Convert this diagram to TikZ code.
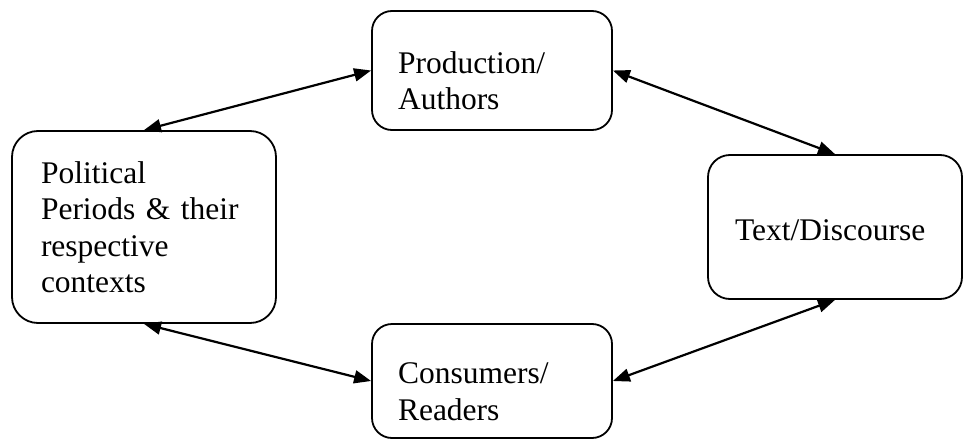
\documentclass[tikz,border=0pt]{standalone}
\usepackage{fontspec}
\setmainfont{Liberation Serif}
\usetikzlibrary{arrows.meta}

\tikzset{
  blk/.style={draw, rectangle, line width=1.8pt, align=left, inner xsep=0pt,
    font=\fontsize{31.5}{36.5}\selectfont},
}
% pushes the first line down a little, as in the text boxes
\newcommand{\toppad}{\rule{0pt}{42pt}}

\begin{document}
\begin{tikzpicture}[x=1pt, y=-1pt, >={Triangle[length=17pt,width=13pt]}]
\useasboundingbox (0,0) rectangle (965,441);

\node[blk, rounded corners=20pt, minimum width=240pt, minimum height=119pt, text width=188pt] (prod) at (492,70.5) {\toppad Production/\\Authors};

\node[blk, rounded corners=26pt, minimum width=264pt, minimum height=192pt, text width=206pt] (pol) at (144,227) {Political\\Periods \& their\\respective\\contexts};

\node[blk, rounded corners=22pt, minimum width=254pt, minimum height=144pt, text width=200pt] (txt) at (835,227) {\rule{0pt}{28pt}Text/Discourse};

\node[blk, rounded corners=20pt, minimum width=240pt, minimum height=114pt, text width=188pt] (cons) at (492,381) {\toppad Consumers/\\Readers};

\draw[<->, line width=2.2pt] (pol.north) -- (prod.west);
\draw[<->, line width=2.2pt] (prod.east) -- (txt.north);
\draw[<->, line width=2.2pt] (pol.south) -- (cons.west);
\draw[<->, line width=2.2pt] (cons.east) -- (txt.south);

\end{tikzpicture}
\end{document}
